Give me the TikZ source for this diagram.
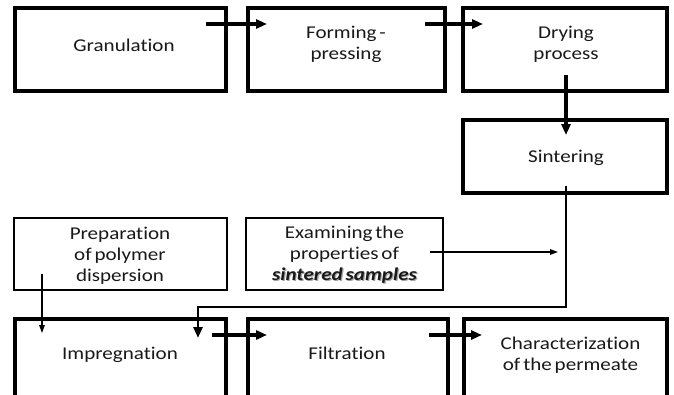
\documentclass[tikz,border=0pt]{standalone}
\usepackage{fontspec}
\setmainfont{Carlito}[FakeStretch=1.17,WordSpace=0.6,Ligatures={NoCommon,NoContextual}]
\usetikzlibrary{arrows.meta,calc}
\newcommand\shadowtxt[1]{\rlap{\kern1.2pt\raisebox{-1.2pt}{\color{black!35}#1}}#1}
\begin{document}
\begin{tikzpicture}[x=1pt,y=-1pt,
  thickbox/.style={draw=black,line width=4pt,outer sep=0pt,inner sep=0pt},
  thinbox/.style={draw=black,line width=1.5pt,outer sep=0pt,inner sep=0pt},
  lbl/.style={font=\fontsize{18}{21}\selectfont,align=center,anchor=base,inner sep=0pt,text=black!90},
  thickarrow/.style={line width=3.2pt,-{Triangle[length=11pt,width=9pt]}},
  thinarrow/.style={line width=1.3pt,-{Triangle[length=8pt,width=5.5pt]}}]
\useasboundingbox (0,0) rectangle (674,394);
\fill[white] (0,0) rectangle (674,394);
% boxes
\draw[thickbox] (15,8) rectangle (226,91);
\coordinate (granNE) at (226,8);
\draw[thickbox] (248,8) rectangle (445,91);
\coordinate (formNW) at (248,8);
\coordinate (formNE) at (445,8);
\draw[thickbox] (463,8) rectangle (667,91);
\coordinate (dryNW) at (463,8);
\coordinate (dryS) at (565,91);
\draw[thickbox] (463,120) rectangle (667,193);
\coordinate (sintN) at (565,120);
\coordinate (sintS) at (565,193);
\draw[thinbox] (14,218) rectangle (227,290);
\coordinate (prepSW) at (14,290);
\draw[thinbox] (246,218) rectangle (443,290);
\coordinate (examE) at (443,254);
\draw[thickbox] (15,420) |- (226,319) -- (226,420);
\coordinate (imprNW) at (15,319);
\coordinate (imprNE) at (226,319);
\draw[thickbox] (248,420) |- (448,319) -- (448,420);
\coordinate (filtNW) at (248,319);
\coordinate (filtNE) at (448,319);
\draw[thickbox] (464,420) |- (667,319) -- (667,420);
\coordinate (charNW) at (464,319);
% labels (anchor = baseline of last line)
\node[lbl] (tgran) at (124,51) {Granulation};
\node[lbl] (tform) at (346,59.5) {Forming -\\pressing};
\node[lbl] (tdry) at (566,59.5) {Drying\\process};
\node[lbl] (tsint) at (566,162) {Sintering};
\node[lbl] (tprep) at (120,281) {Preparation\\of polymer\\dispersion};
\node[lbl] (texam) at (344.5,280) {Examining the\\properties of\\\shadowtxt{\textbf{\textit{sintered samples}}}};
\node[lbl] (timpr) at (120,359) {Impregnation};
\node[lbl] (tfilt) at (347,359) {Filtration};
\node[lbl] (tchar) at (570.5,370) {Characterization\\of the permeate};
% connectors
\draw[thickarrow] ($(granNE)+(-20,16)$) -- ($(formNW)+(19,16)$);
\draw[thickarrow] ($(formNE)+(-20,16)$) -- ($(dryNW)+(20,16)$);
\draw[thickarrow] ($(dryS)+(1,-16)$) -- ($(sintN)+(1,15)$);
\coordinate (loopend) at ($(imprNE)+(-28,19)$);
\draw[thickarrow,line width=2.8pt] ($(sintS)+(1,-7)$) -- ++(0,121) -| (loopend);
\coordinate (examend) at (558,252);
\draw[thinarrow] ($(examE)+(-13,-2)$) -- (examend);
\draw[thinarrow] ($(prepSW)+(28,-16)$) -- ($(imprNW)+(27,14)$);
\draw[thickarrow] ($(imprNE)+(-14,16)$) -- ($(filtNW)+(19,16)$);
\draw[thickarrow] ($(filtNE)+(-19,16)$) -- ($(charNW)+(18,16)$);
\end{tikzpicture}
\end{document}
